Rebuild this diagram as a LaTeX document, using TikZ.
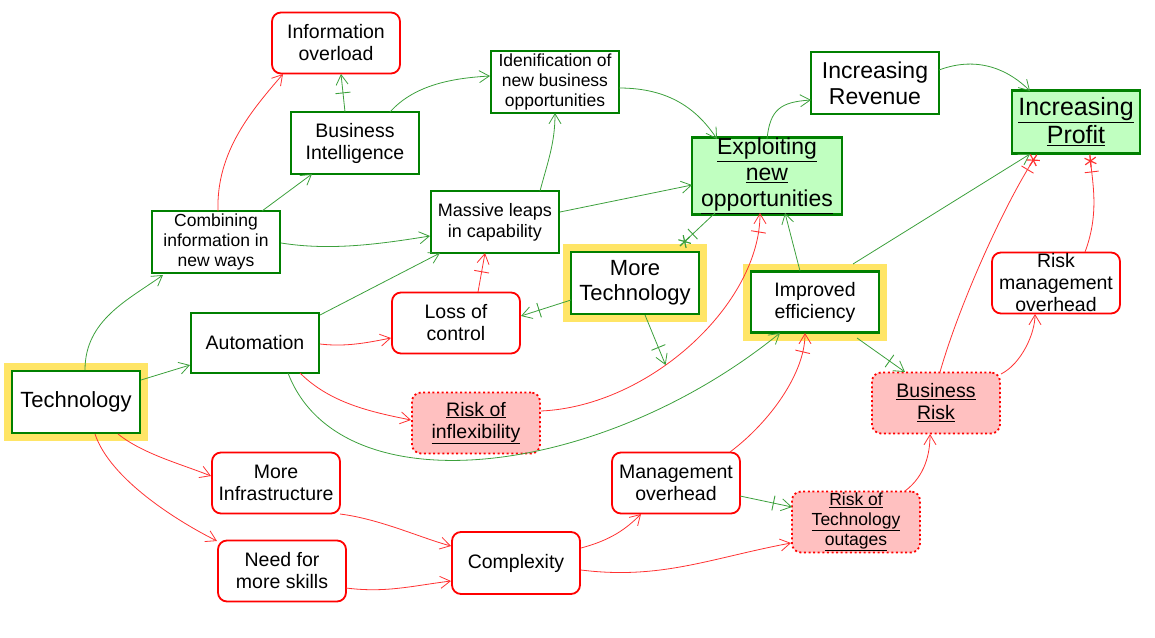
\documentclass[tikz,border=0pt]{standalone}
\usepackage{fontspec}
\setmainfont{Liberation Sans}
\usetikzlibrary{arrows.meta,calc,decorations.markings}
\definecolor{boxgreen}{RGB}{0,128,0}
\definecolor{edgegreen}{RGB}{60,160,60}
\definecolor{edgered}{RGB}{255,50,50}
\definecolor{lightgreen}{RGB}{192,255,192}
\definecolor{pinkfill}{RGB}{255,192,192}
\definecolor{haloyellow}{RGB}{255,229,102}
\tikzset{
  gbox/.style={draw=boxgreen, line width=2.6pt, fill=white, align=center,
    minimum width=128pt, minimum height=62pt, inner sep=1pt},
  halo/.style={gbox, preaction={draw=haloyellow, line width=16pt}},
  gfill/.style={gbox, fill=lightgreen},
  rbox/.style={draw=red, line width=1.8pt, rounded corners=9pt, fill=white, align=center,
    minimum width=128pt, minimum height=61pt, inner sep=1pt},
  pbox/.style={rbox, fill=pinkfill, dash pattern=on 2pt off 2.6pt},
  f17/.style={font=\fontsize{17.5}{20}\selectfont},
  f18/.style={font=\fontsize{18}{21}\selectfont},
  f19/.style={font=\fontsize{19.5}{22}\selectfont},
  f21/.style={font=\fontsize{22}{25}\selectfont},
  f23/.style={font=\fontsize{23}{26}\selectfont},
  f25/.style={font=\fontsize{25}{28}\selectfont},
  tip/.style={-{Straight Barb[length=10pt,width=12pt]}},
  ge/.style={draw=edgegreen, line width=0.8pt, tip},
  re/.style={draw=edgered, line width=0.8pt, tip},
  barmark/.style={postaction={decorate, decoration={markings,
    mark=at position -19pt with {\draw[-, line width=0.9pt] (0,-7.5pt)--(0,7.5pt);}}}},
  astmark/.style={-, postaction={decorate, decoration={markings,
    mark=at position -16pt with {\draw[-, line width=0.9pt] (0,-7pt)--(0,7pt);},
    mark=at position -5pt with {\draw[-, line width=1.2pt] (-6.5pt,0)--(6.5pt,0) (-3.3pt,-5.6pt)--(3.3pt,5.6pt) (-3.3pt,5.6pt)--(3.3pt,-5.6pt);}}}}
}
\begin{document}
\begin{tikzpicture}[x=1pt,y=-1pt]
\useasboundingbox (0,0) rectangle (1155,637);
% nodes
\node[halo,f21] (tech) at (76,402) {Technology};
\node[gbox,f19,minimum height=60pt] (auto) at (255,343) {Automation};
\node[gbox,f17] (comb) at (216,242) {Combining\\information in\\new ways};
\node[gbox,f19] (bi) at (355,143) {Business\\Intelligence};
\node[rbox,f19] (info) at (336,43) {Information\\overload};
\node[gbox,f17] (ident) at (555,82) {Idenification of\\new business\\opportunities};
\node[gbox,f18] (mass) at (495,222) {Massive leaps\\in capability};
\node[rbox,f19] (loss) at (456,323) {Loss of\\control};
\node[halo,f21] (mtech) at (635,283) {More\\Technology};
\node[gfill,f23,minimum width=150pt,minimum height=74pt] (expl) at (767,176) {\underline{Exploiting}\\\underline{new}\\\underline{opportunities}};
\node[gbox,f23] (rev) at (875,83) {Increasing\\Revenue};
\node[gfill,f25,minimum height=63pt] (profit) at (1076,122) {\underline{Increasing}\\\underline{Profit}};
\node[halo,f19,minimum height=61pt] (imp) at (815,302) {Improved\\efficiency};
\node[rbox,f19] (rmgmt) at (1056,283) {Risk\\management\\overhead};
\node[pbox,f19] (brisk) at (936,403) {\underline{Business}\\\underline{Risk}};
\node[pbox,f19] (rinf) at (476,423) {\underline{Risk of}\\\underline{inflexibility}};
\node[rbox,f19] (minf) at (276,483) {More\\Infrastructure};
\node[rbox,f19] (skills) at (282,571) {Need for\\more skills};
\node[rbox,f19,minimum height=62pt] (cplx) at (516,563) {Complexity};
\node[rbox,f19] (mgmt) at (676,483) {Management\\overhead};
\node[pbox,f17] (out) at (856,522) {\underline{Risk of}\\\underline{Technology}\\\underline{outages}};
% edges
\draw[ge] ($(tech)+(9,-32)$) .. controls +(0,-50) and +(-35,25) .. ($(comb)+(-53,33)$);
\draw[ge] ($(tech)+(65,-22)$) -- ($(auto)+(-65,22)$);
\draw[re] ($(tech)+(42,32)$) .. controls +(25,20) and +(-30,-12) .. ($(minf)+(-65,-7)$);
\draw[re] ($(tech)+(19,32)$) .. controls +(15,45) and +(-40,-20) .. ($(skills)+(-65,-30)$);
\draw[re] ($(comb)+(2,-31)$) .. controls +(-2,-60) and +(-30,35) .. ($(info)+(-53,31)$);
\draw[ge] ($(comb)+(46,-31)$) -- ($(bi)+(-43,31)$);
\draw[ge] ($(comb)+(65,1)$) .. controls +(50,8) and +(-50,8) .. ($(mass)+(-65,14)$);
\draw[ge,barmark] ($(bi)+(-10,-31)$) -- ($(info)+(5,31)$);
\draw[ge] ($(bi)+(35,-31)$) .. controls +(25,-28) and +(-35,2) .. ($(ident)+(-65,-6)$);
\draw[ge] ($(auto)+(65,-28)$) -- ($(mass)+(-55,31)$);
\draw[re] ($(auto)+(65,1)$) .. controls +(25,3) and +(-25,5) .. ($(loss)+(-65,15)$);
\draw[re] ($(auto)+(45,30)$) .. controls +(30,30) and +(-40,-8) .. ($(rinf)+(-65,-3)$);
\draw[ge] ($(auto)+(33,30)$) .. controls +(52,136) and +(-180,146) .. ($(imp)+(-35,31)$);
\draw[ge] ($(mass)+(45,-31)$) .. controls +(8,-30) and +(0,30) .. ($(ident)+(0,31)$);
\draw[ge] ($(mass)+(65,-10)$) -- ($(expl)+(-75,9)$);
\draw[ge] ($(ident)+(64,6)$) .. controls +(50,0) and +(-20,-30) .. ($(expl)+(-50,-37)$);
\draw[re,barmark] ($(loss)+(22,-31)$) -- ($(mass)+(-10,31)$);
\draw[ge,barmark] ($(mtech)+(-64,17)$) -- ($(loss)+(65,-7)$);
\draw[ge,astmark] ($(expl)+(-52,37)$) -- ($(mtech)+(46,-38)$);
\draw[re,barmark] ($(rinf)+(65,-12)$) .. controls +(110,-5) and +(0,90) .. coordinate[pos=0.4] (lk) ($(expl)+(-7,37)$);
\draw[ge,barmark] ($(mtech)+(10,32)$) -- (lk);
\draw[ge] ($(expl)+(0,-37)$) .. controls +(3,-30) and +(-30,2) .. ($(rev)+(-64,17)$);
\draw[ge] ($(rev)+(64,-13)$) .. controls +(40,-15) and +(-20,-20) .. ($(profit)+(-46,-31)$);
\draw[ge] ($(imp)+(-15,-31)$) -- ($(expl)+(18,37)$);
\draw[ge] ($(imp)+(38,-38)$) -- ($(profit)+(-46,32)$);
\draw[ge,barmark] ($(imp)+(42,36)$) -- ($(brisk)+(-31,-31)$);
\draw[re,barmark] ($(mgmt)+(54,-31)$) .. controls +(40,-30) and +(0,40) .. ($(imp)+(-10,31)$);
\draw[ge,barmark] ($(mgmt)+(64,13)$) -- ($(out)+(-64,-15)$);
\draw[re] ($(minf)+(64,31)$) .. controls +(40,5) and +(-30,-8) .. ($(cplx)+(-65,-17)$);
\draw[re] ($(skills)+(64,17)$) .. controls +(40,5) and +(-40,5) .. ($(cplx)+(-65,18)$);
\draw[re] ($(cplx)+(65,-15)$) .. controls +(30,-8) and +(-15,15) .. ($(mgmt)+(-35,31)$);
\draw[re] ($(cplx)+(65,7)$) .. controls +(80,10) and +(-80,15) .. ($(out)+(-65,21)$);
\draw[re] ($(out)+(49,-31)$) .. controls +(20,-15) and +(0,20) .. ($(brisk)+(-6,31)$);
\draw[re,astmark] ($(brisk)+(4,-31)$) .. controls +(20,-70) and +(-30,45) .. ($(profit)+(-40,34)$);
\draw[re] ($(brisk)+(65,-29)$) .. controls +(20,-10) and +(0,20) .. ($(rmgmt)+(-21,31)$);
\draw[re,astmark] ($(rmgmt)+(29,-31)$) .. controls +(15,-40) and +(2,25) .. ($(profit)+(14,34)$);
\end{tikzpicture}
\end{document}
